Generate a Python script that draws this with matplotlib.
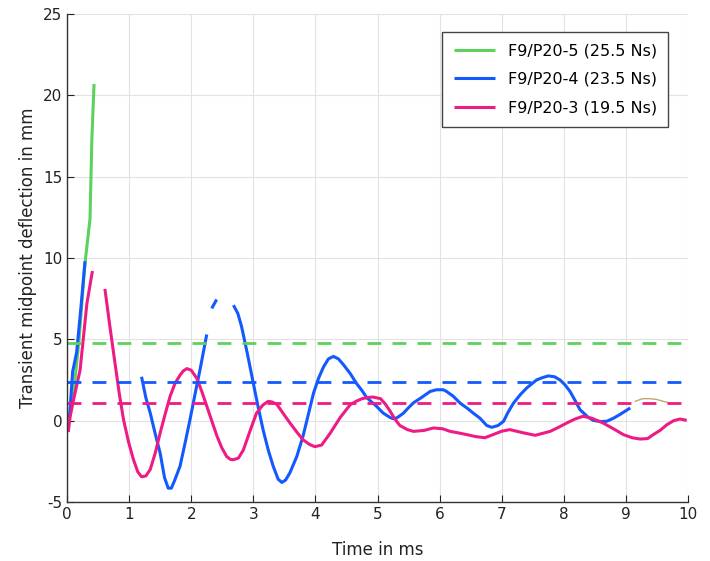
import numpy as np
import matplotlib.pyplot as plt

plt.rcParams['axes.unicode_minus'] = False

# ---- data (time in ms, deflection in mm)
p5_t = [0.03, 0.10, 0.19, 0.29, 0.37, 0.40, 0.435]
p5_y = [0.0, 1.5, 4.8, 9.7, 12.4, 17.3, 20.7]

p4_t1 = [0.04, 0.09, 0.155, 0.22, 0.29]
p4_y1 = [0.2, 3.0, 4.2, 6.8, 9.8]
p4_t2 = [1.20, 1.27, 1.34, 1.42, 1.50, 1.57, 1.63, 1.68, 1.73, 1.82, 1.90,
         1.98, 2.06, 2.14, 2.25]
p4_y2 = [2.7, 1.4, 0.47, -0.8, -2.0, -3.5, -4.15, -4.15, -3.7, -2.8, -1.4,
         0.06, 1.6, 3.1, 5.3]
p4_t3 = [2.33, 2.41]
p4_y3 = [6.9, 7.45]
p4_t4 = [2.68, 2.75, 2.81, 2.90, 3.00, 3.08, 3.16, 3.24, 3.32, 3.40, 3.46,
         3.52, 3.59, 3.70, 3.80, 3.90, 3.97, 4.05, 4.13, 4.21, 4.29, 4.37,
         4.45, 4.56, 4.66, 4.75, 4.83, 4.98, 5.09, 5.20, 5.25, 5.30, 5.36,
         5.42, 5.50, 5.58, 5.70, 5.85, 5.95, 6.06, 6.11, 6.22, 6.33, 6.45,
         6.54, 6.65, 6.76, 6.84, 6.94, 7.03, 7.10, 7.19, 7.30, 7.40, 7.56,
         7.66, 7.75, 7.85, 7.94, 8.02, 8.10, 8.18, 8.26, 8.38, 8.47, 8.58,
         8.69, 8.80, 8.90, 9.07]
p4_y4 = [7.1, 6.6, 5.8, 4.2, 2.3, 0.8, -0.6, -1.8, -2.8, -3.6, -3.8,
         -3.65, -3.2, -2.2, -0.96, 0.6, 1.7, 2.6, 3.3, 3.8, 3.95, 3.8,
         3.45, 2.9, 2.3, 1.85, 1.4, 0.9, 0.47, 0.2, 0.12, 0.15, 0.3,
         0.47, 0.8, 1.1, 1.4, 1.8, 1.9, 1.9, 1.8, 1.5, 1.08, 0.75,
         0.47, 0.15, -0.3, -0.41, -0.3, -0.04, 0.5, 1.08, 1.6, 2.0, 2.5,
         2.65, 2.75, 2.7, 2.5, 2.2, 1.8, 1.25, 0.68, 0.25, 0.02, -0.05,
         -0.04, 0.15, 0.37, 0.78]

p3_t1 = [0.02, 0.05, 0.10, 0.21, 0.32, 0.40, 0.41]
p3_y1 = [-0.7, 0.25, 1.2, 3.1, 7.2, 9.0, 9.2]
p3_t2 = [0.61, 0.69, 0.77, 0.84, 0.91, 0.99, 1.07, 1.14, 1.20, 1.27, 1.34,
         1.42, 1.50, 1.58, 1.66, 1.74, 1.82, 1.87, 1.93, 2.00, 2.09, 2.17,
         2.25, 2.33, 2.41, 2.49, 2.57, 2.63, 2.68, 2.76, 2.84, 2.95, 3.05,
         3.15, 3.24, 3.30, 3.38, 3.48, 3.59, 3.70, 3.80, 3.90, 3.99, 4.10,
         4.24, 4.40, 4.56, 4.66, 4.75, 4.85, 4.93, 5.05, 5.13, 5.20, 5.28,
         5.36, 5.48, 5.58, 5.75, 5.90, 6.05, 6.17, 6.30, 6.44, 6.58, 6.73,
         6.90, 7.00, 7.13, 7.35, 7.54, 7.78, 7.92, 8.05, 8.18, 8.31, 8.45,
         8.63, 8.80, 8.96, 9.10, 9.23, 9.35, 9.44, 9.55, 9.66, 9.77, 9.87,
         9.98]
p3_y2 = [8.1, 5.8, 3.6, 1.7, 0.06, -1.3, -2.4, -3.15, -3.45, -3.4, -3.0,
         -2.0, -0.75, 0.4, 1.5, 2.3, 2.8, 3.05, 3.2, 3.1, 2.6, 1.8,
         0.9, 0.0, -0.9, -1.65, -2.2, -2.38, -2.4, -2.3, -1.8, -0.6, 0.45,
         0.95, 1.19, 1.15, 1.0, 0.45, -0.14, -0.7, -1.17, -1.45, -1.6, -1.5,
         -0.76, 0.2, 0.98, 1.2, 1.35, 1.43, 1.45, 1.35, 1.0, 0.6, 0.1,
         -0.3, -0.55, -0.66, -0.6, -0.45, -0.5, -0.66, -0.75, -0.86, -0.98, -1.05,
         -0.8, -0.65, -0.55, -0.75, -0.9, -0.66, -0.4, -0.14, 0.1, 0.27, 0.15,
         -0.14, -0.5, -0.86, -1.05, -1.13, -1.1, -0.86, -0.6, -0.25, 0.0, 0.1,
         0.02]

extra_t = [9.15, 9.27, 9.39, 9.50, 9.60, 9.74]
extra_y = [1.19, 1.35, 1.35, 1.30, 1.19, 1.05]

labels = ['F9/P20-5 (25.5 Ns)', 'F9/P20-4 (23.5 Ns)', 'F9/P20-3 (19.5 Ns)']
levels = [4.75, 2.35, 1.1]
colors = ['#5cd25c', '#1259ff', '#ef1b84']

fig = plt.figure(figsize=(7.1, 5.61), dpi=100)
ax = fig.add_axes([0.0944, 0.1052, 0.8746, 0.8698])

lw = 2.2
kw = dict(lw=lw, solid_joinstyle='round', solid_capstyle='butt')
ax.plot(p5_t, p5_y, color=colors[0], label=labels[0], **kw)
ax.plot(p4_t1, p4_y1, color=colors[1], label=labels[1], **kw)
for t, y in [(p4_t2, p4_y2), (p4_t3, p4_y3), (p4_t4, p4_y4)]:
    ax.plot(t, y, color=colors[1], **kw)
ax.plot(p3_t1, p3_y1, color=colors[2], label=labels[2], **kw)
ax.plot(p3_t2, p3_y2, color=colors[2], **kw)
ax.plot(extra_t, extra_y, color='#c9a46a', lw=1)

for lev, c in zip(levels, colors):
    ax.plot([0, 10], [lev, lev], color=c, lw=2, dashes=(5, 4))

ax.set_xlim(0, 10)
ax.set_ylim(-5, 25)
ax.set_xticks(range(0, 11))
ax.set_yticks(range(-5, 26, 5))
ax.grid(True, color='#e2e2e2', lw=0.8)
ax.set_axisbelow(True)

for s in ['top', 'right']:
    ax.spines[s].set_visible(False)
for s in ['left', 'bottom']:
    ax.spines[s].set_color('#333333')
    ax.spines[s].set_linewidth(1)
ax.tick_params(direction='in', length=5, labelsize=11, colors='#222222')

ax.set_xlabel('Time in ms', fontsize=12, labelpad=14, color='#222222')
ax.set_ylabel('Transient midpoint deflection in mm', fontsize=12, labelpad=4,
              color='#222222')

leg = ax.legend(loc='upper right', bbox_to_anchor=(0.968, 0.963), fontsize=11.5,
                fancybox=False, framealpha=1, edgecolor='#444444',
                handlelength=2.6, borderpad=0.7, labelspacing=0.85,
                borderaxespad=0)
leg.get_frame().set_linewidth(1)

fig.savefig('out.png', dpi=100)
